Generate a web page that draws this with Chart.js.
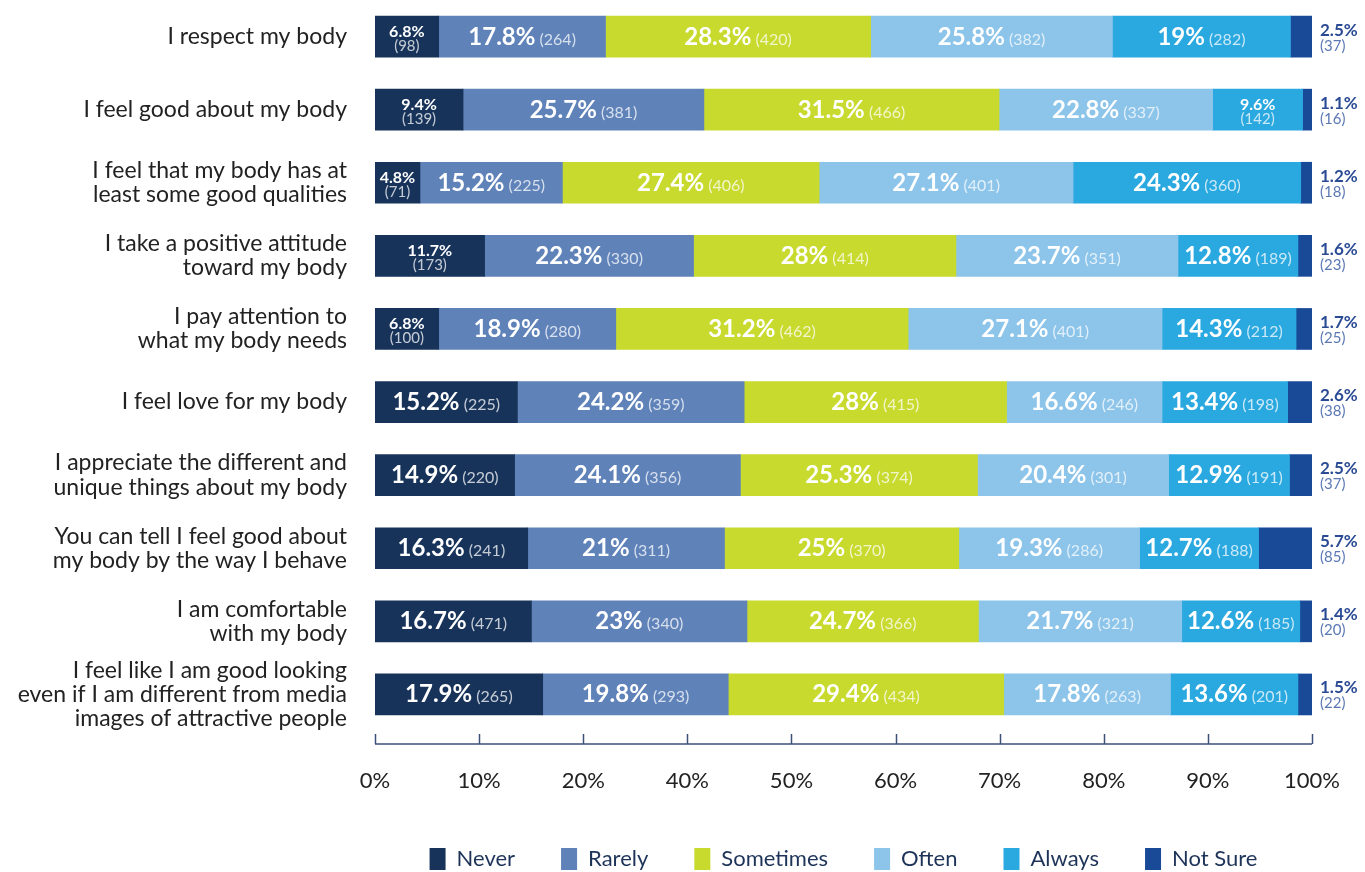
<!DOCTYPE html>
<html>
<head>
<meta charset="utf-8">
<script src="https://cdn.jsdelivr.net/npm/chart.js@4"></script>
<style>
  html, body { margin: 0; padding: 0; background: #fff; }
  #wrap { width: 1365px; height: 872px; position: relative; }
</style>
</head>
<body>
<div id="wrap"><canvas id="bodyChart"></canvas></div>
<script>
const categories = [
    'I respect my body',
    'I feel good about my body',
    ['I feel that my body has at', 'least some good qualities'],
    ['I take a positive attitude', 'toward my body'],
    ['I pay attention to', 'what my body needs'],
    'I feel love for my body',
    ['I appreciate the different and', 'unique things about my body'],
    ['You can tell I feel good about', 'my body by the way I behave'],
    ['I am comfortable', 'with my body'],
    ['I feel like I am good looking', 'even if I am different from media', 'images of attractive people']
];

const seriesNames = ['Never', 'Rarely', 'Sometimes', 'Often', 'Always', 'Not Sure'];

const neverPct = [6.8, 9.4, 4.8, 11.7, 6.8, 15.2, 14.9, 16.3, 16.7, 17.9];
const neverN = [98, 139, 71, 173, 100, 225, 220, 241, 471, 265];
const rarelyPct = [17.8, 25.7, 15.2, 22.3, 18.9, 24.2, 24.1, 21, 23, 19.8];
const rarelyN = [264, 381, 225, 330, 280, 359, 356, 311, 340, 293];
const sometimesPct = [28.3, 31.5, 27.4, 28, 31.2, 28, 25.3, 25, 24.7, 29.4];
const sometimesN = [420, 466, 406, 414, 462, 415, 374, 370, 366, 434];
const oftenPct = [25.8, 22.8, 27.1, 23.7, 27.1, 16.6, 20.4, 19.3, 21.7, 17.8];
const oftenN = [382, 337, 401, 351, 401, 246, 301, 286, 321, 263];
const alwaysPct = [19, 9.6, 24.3, 12.8, 14.3, 13.4, 12.9, 12.7, 12.6, 13.6];
const alwaysN = [282, 142, 360, 189, 212, 198, 191, 188, 185, 201];
const notSurePct = [2.5, 1.1, 1.2, 1.6, 1.7, 2.6, 2.5, 5.7, 1.4, 1.5];
const notSureN = [37, 16, 18, 23, 25, 38, 37, 85, 20, 22];

// the printed axis skips 30% - kept as in the original
const tickLabels = ['0%', '10%', '20%', '40%', '50%', '60%', '70%', '80%', '90%', '100%'];

const colors = ['#17335a', '#5f82b9', '#c8da2e', '#8cc4ea', '#2aa8e0', '#184a97'];
const FONT = 'Lato, "Open Sans", sans-serif';

const pctSeries = [neverPct, rarelyPct, sometimesPct, oftenPct, alwaysPct, notSurePct];
const countSeries = [neverN, rarelyN, sometimesN, oftenN, alwaysN, notSureN];

// labels inside / beside each segment
const segmentLabels = {
    id: 'segmentLabels',
    afterDatasetsDraw(chart) {
        const ctx = chart.ctx;
        ctx.save();
        chart.data.datasets.forEach((ds, di) => {
            const meta = chart.getDatasetMeta(di);
            meta.data.forEach((bar, i) => {
                const pct = pctSeries[di][i];
                const n = countSeries[di][i];
                const pctText = pct + '%';
                const nText = '(' + n + ')';
                if (di === 5) {
                    // Not Sure: outside, right of the bar
                    const x = chart.chartArea.right + 8;
                    ctx.textAlign = 'left';
                    ctx.textBaseline = 'alphabetic';
                    ctx.font = 'bold 17px ' + FONT;
                    ctx.fillStyle = '#2a4b94';
                    ctx.fillText(pctText, x, bar.y - 1);
                    ctx.font = '15px ' + FONT;
                    ctx.fillStyle = '#5b78b4';
                    ctx.fillText(nText, x, bar.y + 14);
                    return;
                }
                const cx = (bar.x + bar.base) / 2;
                ctx.textBaseline = 'alphabetic';
                if (pct < 12) {
                    ctx.textAlign = 'center';
                    ctx.font = 'bold 16px ' + FONT;
                    ctx.fillStyle = '#ffffff';
                    ctx.fillText(pctText, cx, bar.y);
                    ctx.font = '15px ' + FONT;
                    ctx.fillStyle = 'rgba(255,255,255,0.75)';
                    ctx.fillText(nText, cx, bar.y + 14);
                } else {
                    ctx.font = 'bold 24px ' + FONT;
                    const w1 = ctx.measureText(pctText).width;
                    ctx.font = '16px ' + FONT;
                    const w2 = ctx.measureText(' ' + nText).width;
                    const x0 = cx - (w1 + w2) / 2;
                    ctx.textAlign = 'left';
                    ctx.font = 'bold 24px ' + FONT;
                    ctx.fillStyle = '#ffffff';
                    ctx.fillText(pctText, x0, bar.y + 8);
                    ctx.font = '16px ' + FONT;
                    ctx.fillStyle = 'rgba(255,255,255,0.75)';
                    ctx.fillText(' ' + nText, x0 + w1, bar.y + 8);
                }
            });
        });
        ctx.restore();
    }
};

// bottom axis line with ticks pointing up
const axisLine = {
    id: 'axisLine',
    afterDraw(chart) {
        const ctx = chart.ctx;
        const scale = chart.scales.xt;
        const y = chart.chartArea.bottom + 13;
        ctx.save();
        ctx.strokeStyle = '#3c5078';
        ctx.lineWidth = 1.5;
        ctx.beginPath();
        ctx.moveTo(scale.getPixelForValue(0), y);
        ctx.lineTo(scale.getPixelForValue(tickLabels.length - 1), y);
        tickLabels.forEach((t, i) => {
            const x = Math.round(scale.getPixelForValue(i)) + 0.5;
            ctx.moveTo(x, y);
            ctx.lineTo(x, y - 10);
        });
        ctx.stroke();
        ctx.restore();
    }
};

const ctx = document.getElementById('bodyChart').getContext('2d');

new Chart(ctx, {
    type: 'bar',
    data: {
        labels: categories,
        datasets: seriesNames.map((name, i) => ({
            label: name,
            data: pctSeries[i],
            backgroundColor: colors[i],
            borderWidth: 0,
            barThickness: 41,
            xAxisID: 'x'
        }))
    },
    options: {
        indexAxis: 'y',
        responsive: true,
        maintainAspectRatio: false,
        animation: false,
        layout: {
            padding: { top: -2, bottom: -8, left: 0, right: 53 }
        },
        scales: {
            x: {
                display: false,
                stacked: true,
                min: 0,
                max: 100
            },
            xt: {
                type: 'linear',
                position: 'bottom',
                min: 0,
                max: tickLabels.length - 1,
                grid: { display: false, drawTicks: false },
                border: { display: false },
                afterFit: (scale) => {
                    scale.height = 71;
                    scale.paddingLeft = 0;
                    scale.paddingRight = 0;
                },
                ticks: {
                    stepSize: 1,
                    padding: 37,
                    color: '#222222',
                    font: { family: FONT, size: 22 },
                    maxRotation: 0,
                    callback: (value) => tickLabels[value]
                }
            },
            y: {
                stacked: true,
                grid: { display: false, drawTicks: false },
                border: { display: false },
                afterFit: (scale) => {
                    scale.width = 375;
                    scale.paddingTop = 0;
                    scale.paddingBottom = 0;
                },
                ticks: {
                    autoSkip: false,
                    padding: 28,
                    color: '#222222',
                    font: { family: FONT, size: 23, lineHeight: 1.05 }
                }
            }
        },
        plugins: {
            legend: {
                position: 'bottom',
                fullSize: false,
                labels: {
                    boxWidth: 16,
                    boxHeight: 22,
                    padding: 46,
                    color: '#1d3358',
                    font: { family: FONT, size: 22 }
                }
            },
            tooltip: { enabled: false }
        }
    },
    plugins: [segmentLabels, axisLine]
});
</script>
</body>
</html>
